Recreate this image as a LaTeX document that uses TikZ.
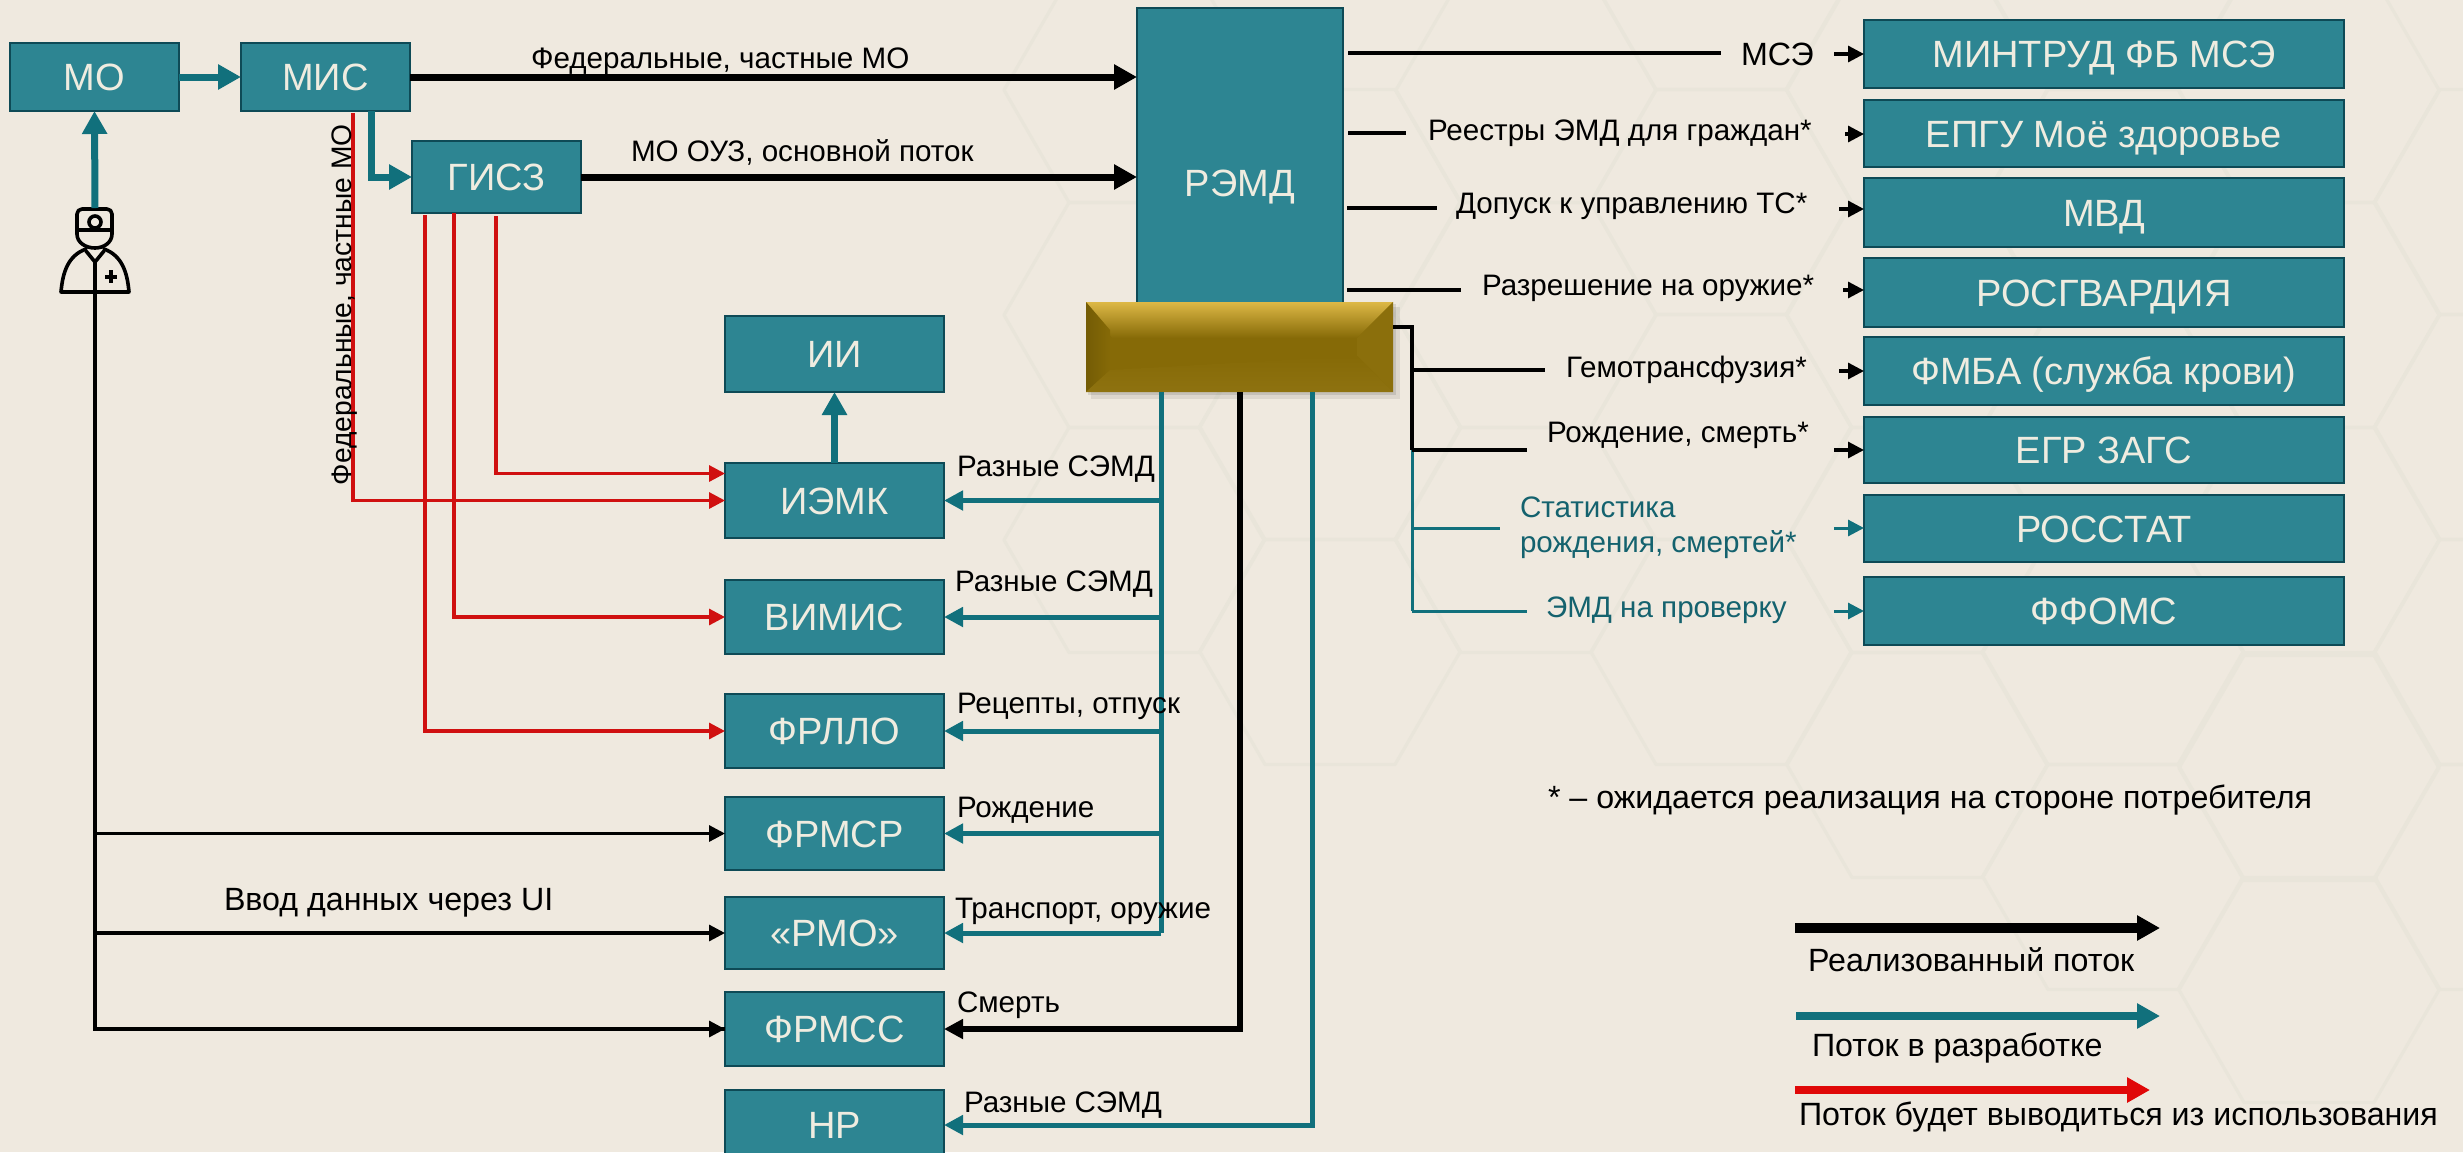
\documentclass[tikz,border=0pt]{standalone}
\usepackage{fontspec}
\setmainfont{Liberation Sans}
\usetikzlibrary{arrows.meta,calc}
\definecolor{bgcol}{HTML}{EFE9DF}
\definecolor{hexcol}{HTML}{E9E5DA}
\definecolor{boxfill}{HTML}{2D8592}
\definecolor{boxedge}{HTML}{0E4A56}
\definecolor{boxtext}{HTML}{EFECE0}
\definecolor{tealflow}{HTML}{11707C}
\definecolor{tealtext}{HTML}{14626E}
\definecolor{redflow}{HTML}{E00808}
\definecolor{redline}{HTML}{D01010}
\definecolor{goldbase}{HTML}{866A07}
\definecolor{goldtop}{HTML}{DDB846}
\definecolor{goldleft}{HTML}{745C05}
\definecolor{goldlow}{HTML}{8E7210}
\tikzset{
  flowbox/.style={draw=boxedge,line width=0.9pt,fill=boxfill,text=boxtext,inner sep=0pt,outer sep=0pt,
    font=\fontsize{19}{21}\selectfont,text height=13.6pt,text depth=0pt,align=center},
  lbl/.style={anchor=base west,inner sep=0pt,outer sep=0pt,font=\fontsize{14.8}{17}\selectfont,text=black},
  lblbig/.style={lbl,font=\fontsize{16.1}{18}\selectfont},
  tlbl/.style={lbl,text=tealtext},
  bighead/.style={-{Triangle[length=11.5pt,width=12pt]}},
  midhead/.style={-{Triangle[length=9.5pt,width=9.5pt]}},
  smallhead/.style={-{Triangle[length=8pt,width=8pt]}},
  blackmain/.style={draw=black,line width=3.5pt,bighead},
  tealmain/.style={draw=tealflow,line width=3.5pt,bighead},
  tealbus/.style={draw=tealflow,line width=2.5pt},
  tealtap/.style={tealbus,midhead},
  thinblack/.style={draw=black,line width=1.6pt},
  thintap/.style={thinblack,smallhead},
  thinteal/.style={draw=tealflow,line width=1.5pt},
  thinttap/.style={thinteal,smallhead},
  redrun/.style={draw=redline,line width=1.6pt},
  redtap/.style={redrun,smallhead},
  legendarrow/.style={bighead}
}
\newcommand{\flowrect}[6]{%
  \node[flowbox,minimum width={(#4-#2)*0.5pt},minimum height={(#5-#3)*0.5pt}] (#1) at ({(#2+#4)/2},{(#3+#5)/2}) {#6};}
\newcommand{\hexcell}[2]{%
  \draw[hexcol,line width=1.6pt,line join=round] (#1-130,#2) -- (#1-65,#2-112.5) -- (#1+65,#2-112.5) -- (#1+130,#2) -- (#1+65,#2+112.5) -- (#1-65,#2+112.5) -- cycle;}
\begin{document}
\begin{tikzpicture}[x=0.5pt,y=-0.5pt]
\clip (0,0) rectangle (2463,1152);
\fill[bgcol] (0,0) rectangle (2463,1152);
% faint honeycomb
\foreach \hy in {90,315,540}{\hexcell{1134}{\hy}}
\foreach \hy in {202,427,652}{\hexcell{1330}{\hy}}
\foreach \hy in {90,315,540}{\hexcell{1526}{\hy}}
\foreach \hy in {-23,202,427,652}{\hexcell{1721}{\hy}}
\foreach \hy in {90,315,540,765}{\hexcell{1917}{\hy}}
\foreach \hy in {-23,202,427,652,877}{\hexcell{2113}{\hy}}
\foreach \hy in {90,315,540,768,990}{\hexcell{2309}{\hy}}
\foreach \hy in {202,427,652,877}{\hexcell{2505}{\hy}}

% free ends
\coordinate (doctop) at (95,208);
\coordinate (docbot) at (95,293);
\coordinate (misdrop) at (371,111);
\coordinate (redA) at (353,113);
\coordinate (redB) at (425,215);
\coordinate (redC) at (454,213);
\coordinate (redD) at (496,216);
\coordinate (busA) at (1161,392);
\coordinate (busB) at (1240,392);
\coordinate (busC) at (1312,392);
\coordinate (trunk) at (1412,327);
\coordinate (trunkmid) at (1412,450);
\coordinate (trunkend) at (1412,611);

% boxes
\flowrect{mo}{10}{43}{179}{111}{МО}
\flowrect{mis}{241}{43}{410}{111}{МИС}
\flowrect{gisz}{412}{141}{581}{213}{ГИСЗ}
\flowrect{remd}{1137}{8}{1343}{358}{РЭМД}
\flowrect{ii}{725}{316}{944}{392}{ИИ}
\flowrect{iemk}{725}{463}{944}{538}{ИЭМК}
\flowrect{vimis}{725}{580}{944}{654}{ВИМИС}
\flowrect{frllo}{725}{694}{944}{768}{ФРЛЛО}
\flowrect{frmsr}{725}{797}{944}{870}{ФРМСР}
\flowrect{rmo}{725}{897}{944}{969}{«РМО»}
\flowrect{frmss}{725}{992}{944}{1066}{ФРМСС}
\flowrect{nr}{725}{1090}{944}{1160}{НР}
\flowrect{mintrud}{1864}{20}{2344}{88}{МИНТРУД ФБ МСЭ}
\flowrect{epgu}{1864}{100}{2344}{167}{ЕПГУ Моё здоровье}
\flowrect{mvd}{1864}{178}{2344}{247}{МВД}
\flowrect{rosg}{1864}{258}{2344}{327}{РОСГВАРДИЯ}
\flowrect{fmba}{1864}{337}{2344}{405}{ФМБА (служба крови)}
\flowrect{zags}{1864}{417}{2344}{483}{ЕГР ЗАГС}
\flowrect{rosstat}{1864}{495}{2344}{562}{РОССТАТ}
\flowrect{ffoms}{1864}{577}{2344}{645}{ФФОМС}

% gold bar
\fill[black,opacity=0.08] (1091,307) rectangle (1400,399);
\fill[black,opacity=0.10] (1088,304) rectangle (1396,395);
\node[fill=goldbase,inner sep=0pt,outer sep=0pt,minimum width=153.5pt,minimum height=45pt] (gold) at (1239.5,347) {};
\shade[top color=goldtop,bottom color=goldbase] (1086,302) -- (1393,302) -- (1357,338) -- (1112,338) -- cycle;
\shade[left color=goldleft,right color=goldbase] (1086,302) -- (1110,330) -- (1110,370) -- (1086,392) -- cycle;
\fill[goldlow!60!goldbase] (1393,302) -- (1357,338) -- (1357,356) -- (1393,392) -- cycle;
\shade[top color=goldbase,bottom color=goldlow] (1086,392) -- (1110,370) -- (1357,356) -- (1393,392) -- cycle;

% doctor icon
\begin{scope}[draw=black,line width=1.8pt,line join=round,line cap=round]
  \draw (77,230) -- (77,214) to[out=90,in=180] (82,209) -- (107,209) to[out=0,in=90] (112,214) -- (112,230) -- cycle;
  \draw[fill=bgcol] (95,222) circle (6);
  \draw (77,230) -- (77,234) to[out=-90,in=180] (95,248) to[out=0,in=-90] (112,234) -- (112,230);
  \draw (86,249) to[out=200,in=85] (61,292) -- (129,292) to[out=95,in=-20] (104,249);
  \draw (86,251) -- (95,262) -- (104,251);
  \draw (95,262) -- (95,292);
  \draw[line width=2pt,line cap=butt] (105,276.5) -- (117,276.5) (111,270) -- (111,283);
\end{scope}

% entry flows
\draw[tealmain] (mo.east) -- (mis.west);
\draw[tealmain] (doctop) -- (mo.south);
\draw[tealmain] (misdrop) |- (gisz.west);
\draw[blackmain] (mis.east) -- (remd.west |- mis.east);
\draw[blackmain] (gisz.east) -- (remd.west |- gisz.east);
\draw[tealmain] (iemk.north) -- (ii.south);

% manual input
\draw[thinblack] (docbot) |- (frmss.west);
\draw[thintap] (docbot |- frmsr.west) -- (frmsr.west);
\draw[thintap] (docbot |- rmo.west) -- (rmo.west);
\draw[thintap] (docbot |- frmss.west) -- (frmss.west);

% red flows
\draw[redtap] (redA) |- (iemk.west);
\draw[redtap] (redD) |- ($(iemk.west)+(0,-27)$);
\draw[redtap] (redC) |- (vimis.west);
\draw[redtap] (redB) |- (frllo.west);

% buses from gold
\draw[tealbus] (gold.south -| busA) |- (rmo.east -| busA);
\draw[tealtap] (busA |- iemk.east) -- (iemk.east);
\draw[tealtap] (busA |- vimis.east) -- (vimis.east);
\draw[tealtap] (busA |- frllo.east) -- (frllo.east);
\draw[tealtap] (busA |- frmsr.east) -- (frmsr.east);
\draw[tealtap] (busA |- rmo.east) -- (rmo.east);
\draw[draw=black,line width=2.8pt,midhead] (gold.south -| busB) |- (frmss.east);
\draw[tealtap] (gold.south -| busC) |- (nr.east);

% right trunk
\draw[thinblack] (gold.east |- trunk) -- (trunk) -- (trunkmid);
\draw[thinteal] (trunkmid) -- (trunkend);

% right stubs
\coordinate (s1a) at (1348,53);  \coordinate (s1b) at (1721,53);
\coordinate (s2a) at (1348,133); \coordinate (s2b) at (1406,133);
\coordinate (s3a) at (1347,208); \coordinate (s3b) at (1437,208);
\coordinate (s4a) at (1347,290); \coordinate (s4b) at (1461,290);
\coordinate (s5b) at (1545,370);
\coordinate (s6b) at (1527,450);
\coordinate (s7b) at (1500,528);
\coordinate (s8b) at (1527,611);
\draw[thinblack] (s1a) -- (s1b);
\draw[thinblack] (s2a) -- (s2b);
\draw[thinblack] (s3a) -- (s3b);
\draw[thinblack] (s4a) -- (s4b);
\draw[thinblack] (trunk |- s5b) -- (s5b);
\draw[thinblack] (trunkmid) -- (s6b);
\draw[thinteal] (trunk |- s7b) -- (s7b);
\draw[thinteal] (trunkend) -- (s8b);
\coordinate (a1) at (1834,54);
\coordinate (a2) at (1845,134);
\coordinate (a3) at (1839,209);
\coordinate (a4) at (1843,290);
\coordinate (a5) at (1839,371);
\coordinate (a6) at (1834,450);
\coordinate (a7) at (1834,528);
\coordinate (a8) at (1834,611);
\draw[thintap] (a1) -- (mintrud.west |- a1);
\draw[thintap] (a2) -- (epgu.west |- a2);
\draw[thintap] (a3) -- (mvd.west |- a3);
\draw[thintap] (a4) -- (rosg.west |- a4);
\draw[thintap] (a5) -- (fmba.west |- a5);
\draw[thintap] (a6) -- (zags.west |- a6);
\draw[thinttap] (a7) -- (rosstat.west |- a7);
\draw[thinttap] (a8) -- (ffoms.west |- a8);

% labels
\node[lbl] (tfed) at (531,68) {Федеральные, частные МО};
\node[lbl] (toyz) at (631,161) {МО ОУЗ, основной поток};
\node[lbl,rotate=90,font=\fontsize{14.1}{16}\selectfont] (tfedv) at (351,485) {Федеральные, частные МО};
\node[lbl] (tsemd1) at (957,476) {Разные СЭМД};
\node[lbl] (tsemd2) at (955,591) {Разные СЭМД};
\node[lbl] (trec) at (957,713) {Рецепты, отпуск};
\node[lbl] (trozh) at (957,817) {Рождение};
\node[lbl] (ttrans) at (955,918) {Транспорт, оружие};
\node[lbl] (tsm) at (957,1012) {Смерть};
\node[lbl] (tsemd3) at (964,1112) {Разные СЭМД};
\node[lblbig] (tui) at (224,910) {Ввод данных через  UI};
\node[lblbig] (tmse) at (1741,65) {МСЭ};
\node[lbl] (treg) at (1428,140) {Реестры ЭМД для граждан*};
\node[lbl] (tdop) at (1456,213) {Допуск к управлению ТС*};
\node[lbl] (trazr) at (1482,295) {Разрешение на оружие*};
\node[lbl] (tgem) at (1566,377) {Гемотрансфузия*};
\node[lbl] (trs) at (1547,442) {Рождение, смерть*};
\node[tlbl] (tstat1) at (1520,517) {Статистика};
\node[tlbl] (tstat2) at (1520,552) {рождения, смертей*};
\node[tlbl] (temd) at (1546,617) {ЭМД на проверку};
\node[lblbig] (tnote) at (1548,808) {* – ожидается реализация на стороне потребителя};

% legend
\coordinate (l1a) at (1795,928); \coordinate (l1b) at (2160,928);
\coordinate (l2a) at (1796,1016); \coordinate (l2b) at (2160,1016);
\coordinate (l3a) at (1795,1090); \coordinate (l3b) at (2150,1090);
\draw[draw=black,line width=5pt,legendarrow] (l1a) -- (l1b);
\draw[draw=tealflow,line width=4pt,legendarrow] (l2a) -- (l2b);
\draw[draw=redflow,line width=4pt,legendarrow] (l3a) -- (l3b);
\node[lblbig] (tl1) at (1808,971) {Реализованный поток};
\node[lblbig] (tl2) at (1812,1056) {Поток в разработке};
\node[lblbig] (tl3) at (1799,1125) {Поток будет выводиться из использования};
\end{tikzpicture}
\end{document}
